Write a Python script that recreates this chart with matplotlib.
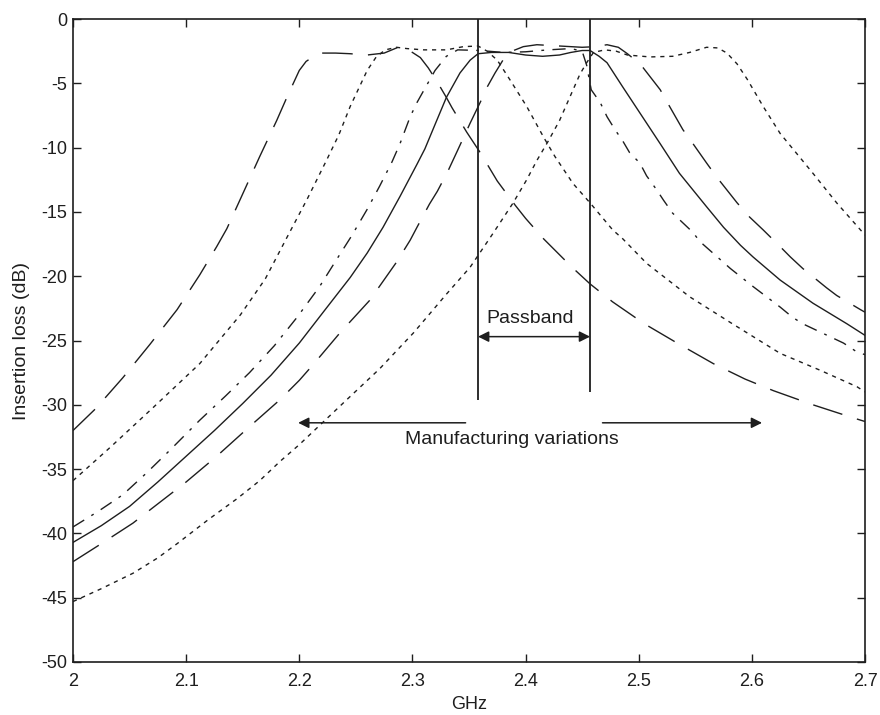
import matplotlib
matplotlib.use("Agg")
import matplotlib.pyplot as plt

plt.rcParams['font.family'] = ['Liberation Sans', 'DejaVu Sans']
plt.rcParams['axes.unicode_minus'] = False

# filter responses (GHz, dB)
a_freq = [2.0, 2.02, 2.044, 2.068, 2.092, 2.112, 2.127, 2.136, 2.15, 2.165, 2.18, 2.19,
          2.2, 2.206, 2.212, 2.22, 2.232, 2.245, 2.26, 2.275, 2.286, 2.294, 2.3, 2.307,
          2.314, 2.322, 2.33, 2.335, 2.348, 2.36, 2.375, 2.391, 2.4, 2.416, 2.441, 2.457,
          2.477, 2.505, 2.534, 2.566, 2.594, 2.619, 2.654, 2.689, 2.7]
a_loss = [-32.0, -30.3, -27.9, -25.3, -22.6, -19.9, -17.7, -16.3, -13.6, -10.7, -7.9, -5.9,
          -4.0, -3.3, -2.95, -2.65, -2.65, -2.7, -2.8, -2.65, -2.25, -2.3, -2.6, -3.0,
          -3.8, -4.9, -6.1, -6.9, -8.8, -10.4, -12.6, -14.5, -15.5, -17.1, -19.3, -20.6,
          -22.0, -23.7, -25.2, -26.8, -28.0, -28.9, -30.0, -31.0, -31.3]

b_freq = [2.0, 2.033, 2.071, 2.112, 2.148, 2.17, 2.189, 2.207, 2.224, 2.235, 2.245, 2.26,
          2.268, 2.276, 2.286, 2.295, 2.31, 2.33, 2.345, 2.358, 2.366, 2.375, 2.386, 2.401,
          2.416, 2.426, 2.442, 2.457, 2.477, 2.486, 2.507, 2.545, 2.581, 2.625, 2.66,
          2.693, 2.7]
b_loss = [-35.9, -33.3, -30.2, -26.8, -23.0, -20.2, -17.0, -14.0, -11.0, -9.0, -6.8, -4.0,
          -2.95, -2.4, -2.2, -2.3, -2.4, -2.4, -2.15, -2.1, -2.5, -3.2, -4.7, -6.8,
          -9.2, -10.7, -12.8, -14.3, -16.4, -17.1, -19.0, -21.6, -23.6, -26.0, -27.3,
          -28.6, -29.0]

c_freq = [2.0, 2.022, 2.044, 2.065, 2.086, 2.112, 2.135, 2.156, 2.178, 2.198, 2.218, 2.233,
          2.246, 2.26, 2.271, 2.282, 2.289, 2.298, 2.304, 2.311, 2.32, 2.33, 2.34, 2.36,
          2.38, 2.4, 2.42, 2.44, 2.45, 2.454, 2.458, 2.466, 2.472, 2.479, 2.486, 2.492,
          2.501, 2.507, 2.516, 2.522, 2.53, 2.548, 2.554, 2.572, 2.581, 2.591, 2.601,
          2.613, 2.625, 2.636, 2.645, 2.669, 2.681, 2.693, 2.7]
c_loss = [-39.5, -38.3, -37.0, -35.3, -33.5, -31.2, -29.3, -27.5, -25.4, -23.2, -20.8, -18.7,
          -16.9, -14.8, -13.0, -11.1, -9.7, -7.6, -6.5, -5.4, -4.0, -2.9, -2.4, -2.45,
          -2.6, -2.55, -2.4, -2.3, -2.5, -3.6, -5.5, -6.5, -7.6, -8.6, -9.5, -10.4,
          -11.2, -12.2, -13.3, -14.1, -15.1, -16.6, -17.3, -18.7, -19.4, -20.1, -20.8,
          -21.6, -22.4, -23.2, -23.7, -24.7, -25.2, -25.9, -26.1]

d_freq = [2.0, 2.025, 2.05, 2.075, 2.1, 2.125, 2.15, 2.175, 2.2, 2.222, 2.245,
          2.26, 2.274, 2.289, 2.304, 2.311, 2.32, 2.33, 2.342, 2.351, 2.358, 2.37, 2.385,
          2.4, 2.415, 2.43, 2.44, 2.45, 2.457, 2.465, 2.472, 2.486, 2.501, 2.519, 2.536,
          2.56, 2.575, 2.59, 2.601, 2.625, 2.654, 2.684, 2.7]
d_loss = [-40.7, -39.4, -37.9, -36.0, -34.0, -32.0, -29.9, -27.7, -25.2, -22.7, -20.1,
          -18.2, -16.2, -13.8, -11.3, -10.1, -8.2, -6.1, -4.2, -3.2, -2.7, -2.6, -2.6,
          -2.8, -2.9, -2.8, -2.6, -2.45, -2.45, -2.9, -3.4, -5.3, -7.3, -9.7, -12.0,
          -14.6, -16.2, -17.6, -18.5, -20.3, -22.1, -23.7, -24.6]

e_freq = [2.0, 2.025, 2.053, 2.075, 2.1, 2.127, 2.156, 2.183, 2.2, 2.212, 2.236, 2.262,
          2.286, 2.298, 2.304, 2.315, 2.322, 2.331, 2.34, 2.351, 2.362, 2.366, 2.373, 2.38,
          2.388, 2.398, 2.41, 2.43, 2.45, 2.462, 2.472, 2.482, 2.49, 2.497, 2.504, 2.519,
          2.526, 2.539, 2.548, 2.56, 2.569, 2.587, 2.598, 2.61, 2.625, 2.634, 2.645,
          2.666, 2.675, 2.696, 2.7]
e_loss = [-42.2, -40.8, -39.2, -37.7, -36.0, -34.0, -31.7, -29.6, -28.1, -26.9, -24.4, -21.9,
          -18.9, -17.2, -16.2, -14.4, -13.4, -11.9, -10.2, -8.1, -6.1, -5.3, -4.2, -3.2,
          -2.5, -2.15, -2.0, -2.1, -2.2, -2.15, -2.0, -2.2, -2.7, -3.2, -3.8, -5.5,
          -6.6, -8.6, -9.7, -11.2, -12.3, -14.3, -15.4, -16.4, -17.7, -18.5, -19.4,
          -20.9, -21.5, -22.6, -22.8]

f_freq = [2.0, 2.025, 2.053, 2.075, 2.092, 2.12, 2.145, 2.165, 2.183, 2.2, 2.212, 2.242,
          2.271, 2.301, 2.33, 2.351, 2.371, 2.389, 2.401, 2.41, 2.42, 2.43, 2.442, 2.448,
          2.454, 2.46, 2.47, 2.48, 2.49, 2.51, 2.53, 2.545, 2.56, 2.57, 2.578, 2.587,
          2.596, 2.61, 2.625, 2.64, 2.654, 2.675, 2.696, 2.7]
f_loss = [-45.3, -44.3, -43.1, -41.9, -40.8, -38.9, -37.3, -35.9, -34.4, -33.1, -32.1, -29.6,
          -27.2, -24.4, -21.4, -19.3, -16.7, -14.3, -12.5, -11.0, -9.5, -7.9, -5.5, -4.3,
          -3.4, -2.6, -2.4, -2.5, -2.8, -2.95, -2.9, -2.6, -2.2, -2.25, -2.65, -3.5,
          -4.7, -6.8, -8.9, -10.5, -12.0, -14.3, -16.4, -16.8]

passband_edges = [2.358, 2.457]
passband_bottoms = [-29.6, -29.0]

x_ticks = [2.0, 2.1, 2.2, 2.3, 2.4, 2.5, 2.6, 2.7]
x_ticklabels = ['2', '2.1', '2.2', '2.3', '2.4', '2.5', '2.6', '2.7']
y_ticks = [0, -5, -10, -15, -20, -25, -30, -35, -40, -45, -50]
y_ticklabels = ['0', '-5', '-10', '-15', '-20', '-25', '-30', '-35', '-40', '-45', '-50']

long_dash = (0, (22, 11))
short_dash = (0, (3, 3.5))
dash_dot = (0, (9.5, 6, 2, 6))
ink = '#1e1e1e'

fig = plt.figure(figsize=(8.8, 7.15), dpi=100)
ax = fig.add_axes([73 / 880, 53 / 715, 792 / 880, 643 / 715])

curves = [(a_freq, a_loss, long_dash), (b_freq, b_loss, short_dash),
          (c_freq, c_loss, dash_dot), (d_freq, d_loss, '-'),
          (e_freq, e_loss, long_dash), (f_freq, f_loss, short_dash)]
for fr, loss, ls in curves:
    ax.plot(fr, loss, color=ink, lw=1.0, linestyle=ls, solid_joinstyle='round')

ax.vlines(passband_edges, passband_bottoms, 0, color=ink, lw=1.3)

arrow = dict(arrowstyle='-|>', color=ink, lw=1.1, mutation_scale=16,
             shrinkA=0, shrinkB=0)
ax.annotate('', xy=(2.358, -24.7), xytext=(2.457, -24.7),
            arrowprops=dict(arrow, arrowstyle='<|-|>'))
ax.text(2.404, -23.3, 'Passband', ha='center', va='center', fontsize=14, color=ink)
ax.annotate('', xy=(2.199, -31.4), xytext=(2.347, -31.4), arrowprops=arrow)
ax.annotate('', xy=(2.609, -31.4), xytext=(2.468, -31.4), arrowprops=arrow)
ax.text(2.388, -32.7, 'Manufacturing variations', ha='center', va='center',
        fontsize=14, color=ink)

ax.set_xlim(2.0, 2.7)
ax.set_ylim(-50, 0)
ax.set_xticks(x_ticks)
ax.set_xticklabels(x_ticklabels)
ax.set_yticks(y_ticks)
ax.set_yticklabels(y_ticklabels)
ax.tick_params(direction='in', length=6, width=1.0, top=True, right=True,
               labelsize=13, colors=ink)
ax.tick_params(axis='x', pad=8)
ax.tick_params(axis='y', pad=4)
for sp in ax.spines.values():
    sp.set_linewidth(1.2)
    sp.set_color(ink)

ax.set_xlabel('GHz', fontsize=13, color=ink, labelpad=4)
ax.set_ylabel('Insertion loss (dB)', fontsize=14, color=ink, labelpad=8)

fig.savefig('out.png', dpi=100)
